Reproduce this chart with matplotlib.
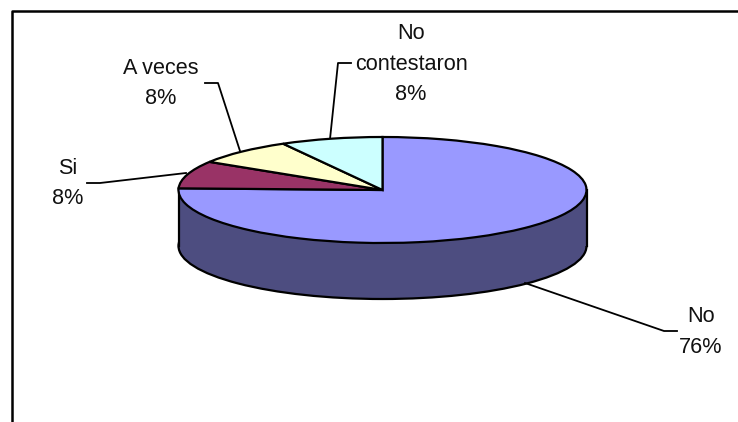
import matplotlib
matplotlib.use("Agg")
import matplotlib.pyplot as plt
from matplotlib.patches import Ellipse, Rectangle

W, H = 738, 422

categories = ["No", "Si", "A veces", "No\ncontestaron"]
values = [75.5, 8.4, 8.0, 8.1]
pct_labels = ["76%", "8%", "8%", "8%"]

top_colors = ["#9999FF", "#993366", "#FFFFCC", "#CCFFFF"]
side_color = "#4D4D80"

plt.rcParams["font.family"] = ["Liberation Sans", "DejaVu Sans"]

fig = plt.figure(figsize=(W / 100, H / 100), dpi=100)

# background axes in pixel coords (y flipped by hand)
bg = fig.add_axes([0, 0, 1, 1])
bg.set_xlim(0, W)
bg.set_ylim(H, 0)
bg.axis("off")

# chart frame, only top and left edges are inside the image
bg.plot([12, 12, W + 2], [H + 2, 10.5, 10.5], color="black", lw=1.8)

# pie body
cx, cy, rx, ry, depth = 382.5, 190, 204, 53, 56
bg.add_patch(Ellipse((cx, cy + depth), 2 * rx, 2 * ry, fc=side_color, ec="black", lw=1.6))
bg.add_patch(Rectangle((cx - rx, cy), 2 * rx, depth, fc=side_color, ec="none"))
bg.plot([cx - rx, cx - rx], [cy, cy + depth], color="black", lw=1.6)
bg.plot([cx + rx, cx + rx], [cy, cy + depth], color="black", lw=1.6)

# top of the pie, squashed by using a non-equal aspect
ax = fig.add_axes([(cx - rx) / W, 1 - (cy + ry) / H, 2 * rx / W, 2 * ry / H])
ax.pie(values, colors=top_colors, startangle=90, counterclock=False, radius=1,
       wedgeprops=dict(edgecolor="black", linewidth=1.6))
ax.set_aspect("auto")
ax.set_xlim(-1, 1)
ax.set_ylim(-1, 1)
for w in ax.patches:
    w.set_clip_on(False)

# leader lines
leaders = [
    ([525, 664, 677], [283, 331, 331]),
    ([186, 100, 87], [173, 183, 183]),
    ([240, 218, 205], [151, 83, 83]),
    ([330, 338, 351], [139, 63, 63]),
]
for xs, ys in leaders:
    bg.plot(xs, ys, color="black", lw=1.3)

# data labels
label_pos = [(701, 332), (68, 183.5), (161, 83.5), (411, 64)]
for cat, pct, (x, y) in zip(categories, pct_labels, label_pos):
    bg.text(x, y, cat + "\n" + pct, ha="center", va="center", fontsize=15.6,
            color="#111111", linespacing=1.62)

fig.savefig("out.png", dpi=100)
